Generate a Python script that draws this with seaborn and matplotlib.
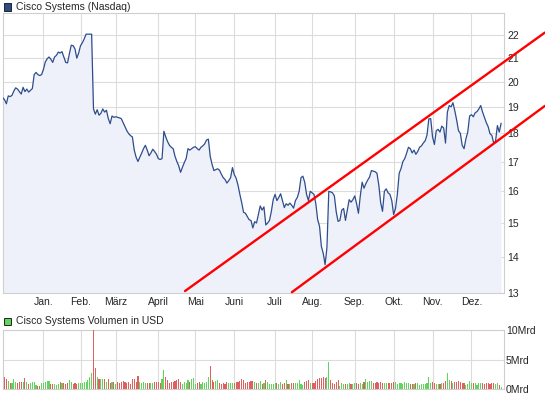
import numpy as np
import pandas as pd
import seaborn as sns
import matplotlib.pyplot as plt
from matplotlib.patches import Rectangle
from matplotlib.ticker import NullLocator

# month labels and trading days per month (Dez 2010 .. Dez 2011)
month_names = ['Jan.', 'Feb.', 'März', 'April', 'Mai', 'Juni', 'Juli', 'Aug.', 'Sep.', 'Okt.', 'Nov.', 'Dez.']
days_per_month = [22, 20, 19, 23, 20, 21, 22, 20, 23, 21, 21, 21, 17]

# closing price in USD, one value per trading day
price = [
    19.36, 19.28, 19.12, 19.43, 19.40, 19.45, 19.62, 19.75, 19.70, 19.60, 19.50, 19.77, 19.60, 19.70, 19.58, 19.65, 19.72, 20.29, 20.38, 20.29, 20.25, 20.29,
    20.51, 20.82, 20.95, 21.03, 20.93, 20.80, 21.03, 21.10, 21.24, 21.20, 21.26, 21.03, 20.80, 20.78, 21.17, 21.54, 21.52, 21.38, 20.98, 21.20,
    21.52, 21.65, 21.82, 22.03, 22.03, 22.03, 22.03, 18.92, 18.72, 18.89, 18.68, 18.75, 18.92, 18.80, 18.87, 18.55, 18.36, 18.65, 18.60,
    18.62, 18.60, 18.58, 18.55, 18.40, 18.25, 18.10, 17.99, 17.92, 17.87, 17.40, 17.15, 17.00, 17.15, 17.29, 17.45, 17.57, 17.40, 17.20, 17.30, 17.43, 17.35, 17.25,
    17.10, 17.07, 17.10, 18.08, 17.87, 17.70, 17.57, 17.50, 17.45, 17.18, 17.00, 16.85, 16.63, 16.80, 16.96, 17.10, 17.45, 17.40, 17.45, 17.50,
    17.52, 17.45, 17.40, 17.50, 17.55, 17.62, 17.76, 17.79, 17.18, 16.90, 16.69, 16.72, 16.75, 16.70, 16.57, 16.45, 16.39, 16.27, 16.35, 16.45, 16.79,
    16.55, 16.43, 16.20, 15.90, 15.63, 15.33, 15.30, 15.20, 15.10, 15.08, 14.85, 15.04, 15.00, 15.26, 15.53, 15.40, 15.50, 14.94, 15.00, 15.08, 15.36, 15.73,
    15.90, 15.70, 15.80, 15.92, 15.70, 15.48, 15.60, 15.55, 15.62, 15.55, 15.46, 15.70, 15.80, 16.00, 16.45, 16.50, 16.30, 15.90, 15.70, 16.00,
    15.95, 15.90, 15.60, 15.10, 14.90, 14.30, 14.10, 13.78, 14.27, 16.00, 15.98, 15.95, 15.85, 15.35, 15.05, 15.08, 15.40, 15.45, 15.08, 15.40, 15.73, 15.65, 15.73,
    15.85, 15.60, 15.30, 15.85, 16.30, 16.10, 16.25, 16.37, 16.47, 16.69, 16.67, 16.65, 16.60, 16.20, 15.63, 15.36, 16.00, 16.08, 15.95, 15.90, 15.70,
    15.26, 15.45, 15.90, 16.60, 16.76, 17.00, 17.10, 17.29, 17.50, 17.45, 17.30, 17.40, 17.25, 17.35, 17.50, 17.55, 17.65, 17.73, 17.94, 18.54, 18.55,
    17.87, 17.60, 18.10, 18.15, 18.05, 18.27, 18.20, 17.65, 18.80, 19.05, 19.00, 19.16, 18.85, 18.50, 18.10, 18.00, 17.57, 17.45, 17.80, 18.05, 18.65,
    18.70, 18.62, 18.77, 18.82, 18.92, 19.05, 18.80, 18.60, 18.40, 18.25, 17.99, 17.93, 17.65, 17.72, 18.29, 18.05, 18.38,
]

# daily volume in Mrd USD
volume = [
    1.5, 2.1, 1.7, 1.4, 1.1, 1.0, 1.7, 1.3, 1.1, 1.2, 1.3, 1.3, 1.9, 1.2, 0.9, 1.0, 1.2, 1.2, 0.7, 0.55, 0.6, 1.0,
    1.0, 1.3, 1.4, 1.4, 0.9, 0.9, 0.9, 0.7, 0.85, 1.2, 1.0, 1.0, 0.9, 1.0, 1.56, 1.2, 0.9, 1.05, 0.95, 1.0,
    1.0, 1.0, 1.3, 1.3, 1.56, 2.1, 2.8, 9.9, 3.6, 2.0, 1.8, 1.75, 1.75, 1.7, 1.3, 1.8, 1.0, 1.2, 1.2,
    0.9, 1.2, 1.0, 1.3, 1.4, 1.2, 1.1, 1.2, 0.9, 1.7, 1.7, 1.3, 2.2, 1.15, 1.1, 1.2, 1.0, 1.0, 1.05, 1.05, 1.1, 1.2, 1.3,
    1.3, 1.0, 1.8, 3.2, 2.0, 1.56, 1.1, 1.3, 1.2, 1.45, 1.56, 1.65, 1.2, 0.9, 1.3, 1.1, 1.56, 1.3, 1.8, 1.9,
    0.9, 1.1, 1.2, 0.9, 1.2, 1.1, 1.3, 2.0, 3.9, 1.56, 1.3, 1.45, 1.56, 1.1, 0.9, 1.1, 0.9, 1.2, 1.0, 1.1, 1.0,
    1.05, 1.15, 1.3, 1.35, 1.75, 1.56, 1.05, 1.3, 1.3, 1.45, 1.45, 1.15, 1.05, 1.0, 1.45, 0.9, 1.1, 1.56, 1.3, 0.9, 0.9, 0.9,
    1.0, 1.1, 0.9, 1.3, 0.9, 1.0, 1.56, 0.9, 0.85, 1.0, 1.0, 1.05, 1.1, 1.56, 0.9, 0.8, 1.2, 1.4, 1.56, 1.1,
    1.1, 1.1, 1.45, 1.8, 1.95, 1.9, 2.1, 1.9, 2.0, 4.6, 1.56, 1.0, 0.9, 1.2, 1.56, 0.55, 1.0, 0.9, 0.9, 0.85, 1.0, 0.9, 0.9,
    1.0, 1.1, 0.9, 1.0, 0.9, 1.2, 1.8, 1.2, 1.4, 1.45, 1.0, 1.0, 1.2, 1.0, 1.3, 1.1, 1.0, 1.1, 1.05, 1.0, 1.05,
    1.25, 1.2, 0.9, 1.0, 1.1, 0.9, 1.2, 1.0, 1.0, 0.9, 0.9, 0.9, 1.0, 1.1, 0.7, 0.9, 0.9, 0.9, 1.0, 2.1, 1.1,
    1.3, 1.1, 0.9, 0.9, 0.9, 1.0, 1.1, 1.4, 2.8, 1.56, 1.45, 1.1, 1.2, 1.2, 1.45, 1.2, 1.0, 1.1, 0.8, 0.9, 1.45,
    1.0, 1.1, 1.0, 0.7, 1.0, 1.0, 1.0, 0.9, 1.0, 1.1, 0.9, 1.1, 1.0, 0.9, 1.1, 0.7, 0.35,
]

# hand drawn trend channel (trading day, price)
upper_days = [98.4, 292.6]
upper_price = [13.06, 22.1]
lower_days = [156.1, 292.7]
lower_price = [13.03, 19.04]

price_ticks = list(range(13, 23))
vol_ticks = [0, 5, 10]
vol_labels = ['0Mrd', '5Mrd', '10Mrd']

df = pd.DataFrame({'day': np.arange(len(price)), 'price': price, 'volume': volume})
df['up'] = df['price'].diff().fillna(0) >= 0
month_start = np.cumsum(days_per_month)[:-1]

sns.set_style('white')
plt.rcParams['font.family'] = ['Liberation Sans', 'DejaVu Sans']
plt.rcParams['font.size'] = 7.5

W, H = 545, 398
fig = plt.figure(figsize=(W / 100, H / 100), dpi=100)
ax1 = fig.add_axes([2.7 / W, 1 - 293.3 / H, 501 / W, 280.3 / H])
ax2 = fig.add_axes([2.7 / W, 1 - 389.3 / H, 501 / W, 59.6 / H])

grid_c = '#dcdcdc'
xmax = 270.4

# price panel
ax1.set_yscale('log')
ax1.fill_between(df['day'], df['price'], 13, color='#eef1f9', lw=0, zorder=1)
sns.lineplot(data=df, x='day', y='price', ax=ax1, color='#2e4d8c', lw=0.9, zorder=3)
ax1.plot(upper_days, upper_price, color='#ff0000', lw=1.7, clip_on=False, zorder=4)
ax1.plot(lower_days, lower_price, color='#ff0000', lw=1.7, clip_on=False, zorder=4)
ax1.set_ylim(13, 23)
ax1.set_xlim(0, xmax)
ax1.yaxis.set_minor_locator(NullLocator())
ax1.set_yticks(price_ticks)
ax1.set_yticklabels([str(t) for t in price_ticks])
ax1.set_xticks(month_start)
ax1.set_xticklabels(month_names)
ax1.yaxis.tick_right()
ax1.tick_params(axis='y', length=0, pad=2.4)
ax1.tick_params(axis='x', length=0, pad=3)
ax1.grid(True, color=grid_c, lw=0.8)
ax1.set_xlabel('')
ax1.set_ylabel('')

# volume panel
bar_colors = np.where(df['up'], '#5fd65a', '#e05f5f')
ax2.bar(df['day'], df['volume'], width=0.6, color=bar_colors, lw=0, zorder=3,
        antialiased=False)
ax2.set_ylim(0, 10)
ax2.set_xlim(0, xmax)
ax2.set_yticks(vol_ticks)
ax2.set_yticklabels(vol_labels)
ax2.set_xticks(month_start)
ax2.yaxis.tick_right()
ax2.tick_params(axis='y', length=0, pad=1.5)
ax2.tick_params(axis='x', length=0, labelbottom=False)
ax2.grid(True, color=grid_c, lw=0.8)

for ax in (ax1, ax2):
    for s in ax.spines.values():
        s.set_color('#cfcfcf')
        s.set_linewidth(0.8)

# panel titles with legend squares
fig.patches.append(Rectangle((4 / W, 1 - 10.5 / H), 7 / W, 7 / H, transform=fig.transFigure,
                             facecolor='#2d4b87', edgecolor='#222222', lw=0.7))
fig.text(16 / W, 1 - 6.5 / H, 'Cisco Systems (Nasdaq)', va='center', ha='left', fontsize=7.5)
fig.patches.append(Rectangle((4 / W, 1 - 325 / H), 7 / W, 7 / H, transform=fig.transFigure,
                             facecolor='#5fd65a', edgecolor='#222222', lw=0.7))
fig.text(16 / W, 1 - 321.3 / H, 'Cisco Systems Volumen in USD', va='center', ha='left', fontsize=7.5)

fig.savefig('out.png', dpi=100)
